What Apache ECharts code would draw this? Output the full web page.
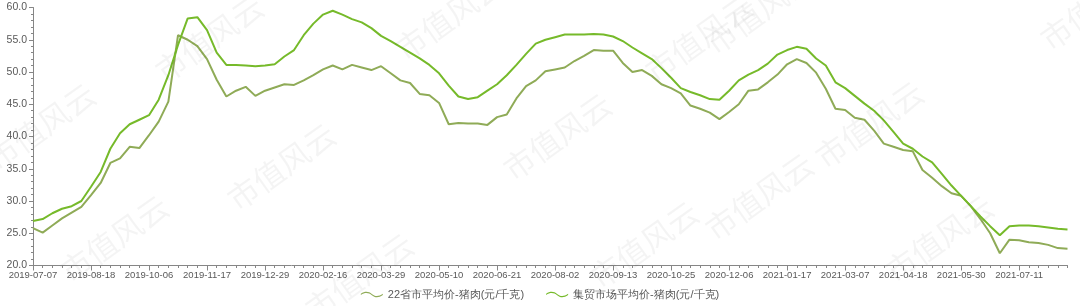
<!DOCTYPE html>
<html>
<head>
<meta charset="utf-8">
<script src="https://cdn.jsdelivr.net/npm/echarts@6/dist/echarts.min.js"></script>
<style>html,body{margin:0;padding:0;background:#fff}#c{width:1080px;height:306px}</style>
</head>
<body>
<div id="c"></div>
<script>
const categories = [
'2019-07-07','2019-07-14','2019-07-21','2019-07-28','2019-08-04','2019-08-11',
'2019-08-18','2019-08-25','2019-09-01','2019-09-08','2019-09-15','2019-09-22',
'2019-10-06','2019-10-13','2019-10-20','2019-10-27','2019-11-03','2019-11-10',
'2019-11-17','2019-11-24','2019-12-01','2019-12-08','2019-12-15','2019-12-22',
'2019-12-29','2020-01-05','2020-01-12','2020-01-19','2020-02-02','2020-02-09',
'2020-02-16','2020-02-23','2020-03-01','2020-03-08','2020-03-15','2020-03-22',
'2020-03-29','2020-04-05','2020-04-12','2020-04-19','2020-04-26','2020-05-03',
'2020-05-10','2020-05-17','2020-05-24','2020-05-31','2020-06-07','2020-06-14',
'2020-06-21','2020-06-28','2020-07-05','2020-07-12','2020-07-19','2020-07-26',
'2020-08-02','2020-08-09','2020-08-16','2020-08-23','2020-08-30','2020-09-06',
'2020-09-13','2020-09-20','2020-09-27','2020-10-04','2020-10-11','2020-10-18',
'2020-10-25','2020-11-01','2020-11-08','2020-11-15','2020-11-22','2020-11-29',
'2020-12-06','2020-12-13','2020-12-20','2020-12-27','2021-01-03','2021-01-10',
'2021-01-17','2021-01-24','2021-01-31','2021-02-07','2021-02-21','2021-02-28',
'2021-03-07','2021-03-14','2021-03-21','2021-03-28','2021-04-04','2021-04-11',
'2021-04-18','2021-04-25','2021-05-02','2021-05-09','2021-05-16','2021-05-23',
'2021-05-30','2021-06-06','2021-06-13','2021-06-20','2021-06-27','2021-07-04',
'2021-07-11','2021-07-18','2021-07-25','2021-08-01','2021-08-08','2021-08-15'
];

const seriesNames = ['22省市平均价-猪肉(元/千克)', '集贸市场平均价-猪肉(元/千克)'];

// 22省市平均价
const avg22 = [
25.8,25.1,26.2,27.3,28.2,29.1,30.9,32.8,35.9,36.6,38.4,38.2,
40.2,42.3,45.4,55.7,55.0,54.0,52.0,48.8,46.2,47.1,47.7,46.3,
47.1,47.6,48.1,48.0,48.7,49.5,50.4,51.0,50.4,51.1,50.7,50.3,
50.9,49.8,48.7,48.3,46.6,46.4,45.2,41.9,42.1,42.0,42.0,41.8,
43.0,43.4,45.9,47.8,48.7,50.1,50.4,50.7,51.7,52.5,53.4,53.3,
53.3,51.4,50.0,50.3,49.4,48.1,47.5,46.7,44.8,44.3,43.7,42.7,
43.8,45.0,47.1,47.3,48.4,49.6,51.2,52.0,51.4,49.9,47.4,44.3,
44.1,42.9,42.6,40.9,38.9,38.4,37.9,37.7,34.8,33.6,32.3,31.2,
30.8,29.2,27.2,25.0,21.9,24.0,23.9,23.6,23.5,23.2,22.7,22.6
];

// 集贸市场平均价
const market = [
26.9,27.2,28.1,28.8,29.2,30.0,32.2,34.5,38.1,40.5,41.9,42.6,
43.3,45.7,49.5,54.2,58.3,58.5,56.5,53.0,51.1,51.1,51.0,50.9,
51.0,51.2,52.4,53.4,55.7,57.5,58.9,59.5,58.9,58.2,57.7,56.8,
55.6,54.8,53.9,53.0,52.1,51.1,49.8,47.9,46.2,45.8,46.1,47.1,
48.1,49.5,51.1,52.8,54.4,55.0,55.4,55.8,55.8,55.8,55.9,55.8,
55.5,54.8,53.8,52.9,52.0,50.6,49.1,47.5,46.9,46.4,45.8,45.7,
47.1,48.7,49.6,50.3,51.3,52.7,53.4,53.9,53.6,52.1,51.0,48.4,
47.5,46.3,45.1,44.0,42.5,40.7,38.9,38.1,36.9,36.0,34.2,32.4,
30.8,29.2,27.6,26.1,24.7,26.1,26.2,26.2,26.1,25.9,25.7,25.6
];

const watermarkText = '市值风云';
const watermarkSpots = [
  [150, 62], [-18, 150], [222, 190], [55, 262], [300, 300], [390, 40],
  [498, 160], [585, 268], [640, 62], [700, 220], [810, 148], [880, 262],
  [1035, 30], [700, 34]
];

const textColor = '#595959';
const axisColor = '#868686';
const wave = 'path://M0,4.2 C6,0.2 11,1.2 15,4.6 C19,8 24,8.6 30,4.4 L30,6.2 C24,10.4 19,9.8 15,6.4 C11,3 6,2 0,6 Z';

const chart = echarts.init(document.getElementById('c'), null, {renderer: 'canvas'});

const graphics = watermarkSpots.map(p => ({
  type: 'text', x: p[0], y: p[1], rotation: 0.62, z: 100, silent: true,
  style: {text: watermarkText, fontSize: 31, fontFamily: 'Noto Sans CJK SC',
          fill: 'rgba(0,0,0,0.045)'}
}));

chart.setOption({
  animation: false,
  backgroundColor: '#fff',
  graphic: graphics,
  grid: {left: 33, top: 7.5, bottom: 40.5, width: 1034.5, containLabel: false},
  legend: {
    bottom: 1, left: 'center', itemGap: 22, itemWidth: 22, itemHeight: 8,
    icon: wave,
    textStyle: {color: textColor, fontSize: 11, fontFamily: 'Liberation Sans'},
    data: seriesNames
  },
  xAxis: [{
    type: 'category', data: categories, boundaryGap: false,
    axisLine: {lineStyle: {color: axisColor, width: 1}},
    axisTick: {interval: 5, length: 5, lineStyle: {color: axisColor}},
    axisLabel: {interval: 5, color: textColor, fontSize: 9.5, margin: 5,
                fontFamily: 'Liberation Sans', hideOverlap: false}
  }, {
    type: 'category', data: categories, boundaryGap: false, position: 'bottom',
    axisLine: {show: false},
    axisTick: {interval: 0, length: 2.5, lineStyle: {color: axisColor}},
    axisLabel: {show: false}
  }],
  yAxis: {
    type: 'value', min: 20, max: 60, interval: 5,
    axisLine: {show: true, lineStyle: {color: axisColor}},
    axisTick: {show: true, length: 4, lineStyle: {color: axisColor}},
    minorTick: {show: true, splitNumber: 5, length: 2, lineStyle: {color: axisColor}},
    splitLine: {show: false},
    axisLabel: {color: textColor, fontSize: 10.5, margin: 6, fontFamily: 'Liberation Sans',
                formatter: v => v.toFixed(1)}
  },
  series: [{
    name: seriesNames[0], type: 'line', data: avg22, xAxisIndex: 0,
    showSymbol: false, symbol: 'none',
    lineStyle: {color: '#8fab57', width: 2},
    itemStyle: {color: '#8fab57'}
  }, {
    name: seriesNames[1], type: 'line', data: market, xAxisIndex: 0,
    showSymbol: false, symbol: 'none',
    lineStyle: {color: '#76ba2a', width: 2},
    itemStyle: {color: '#76ba2a'}
  }]
});
</script>
</body>
</html>
